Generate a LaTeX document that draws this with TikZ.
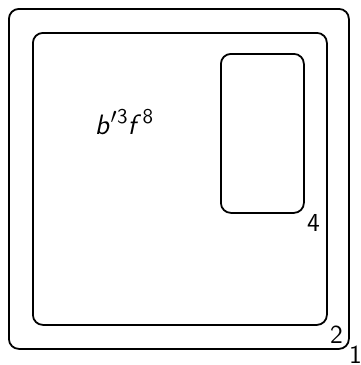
\documentclass[tikz,border=0pt]{standalone}
\usetikzlibrary{positioning}
\newcommand{\upidx}[1]{\raisebox{0.42em}{\fontsize{10.5}{12}\selectfont\upshape #1}}
\tikzset{
  frame/.style={draw,line width=0.9pt,rounded corners=5pt,inner sep=0pt,anchor=north west},
  tag/.style={font=\fontsize{13}{15}\selectfont\sffamily,inner sep=0pt,anchor=north west},
  term/.style={font=\fontsize{14}{16}\selectfont\sffamily,inner sep=0pt},
}
\begin{document}
\begin{tikzpicture}[x=0.5pt,y=-0.5pt]
  \useasboundingbox (0,0) rectangle (360,365);
  % nested regions, outside in
  \node[frame,minimum width=170pt,minimum height=170pt] (outer) at (8,8) {};
  \node[frame,minimum width=147pt,minimum height=146pt] (middle) at (32,32) {};
  \node[frame,minimum width=41.5pt,minimum height=79.5pt] (inner) at (220,53) {};
  % region numbers
  \node[tag] (n1) at ([xshift=-0.5pt,yshift=2pt]outer.south east) {1};
  \node[tag] (n2) at ([xshift=1pt]middle.south east) {2};
  \node[tag] (n4) at ([xshift=1pt]inner.south east) {4};
  \node[term] (w) at (124,122) {\itshape b\/\upidx{\kern0.03em$\prime$\kern0.03em3}f\/\kern0.05em\upidx{8}};
\end{tikzpicture}
\end{document}
